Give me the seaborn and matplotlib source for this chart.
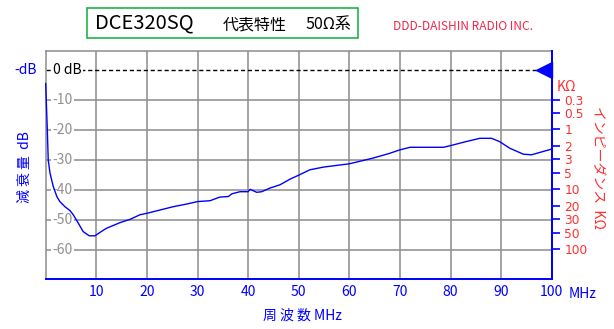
import numpy as np
import pandas as pd
import matplotlib
matplotlib.use("Agg")
import matplotlib.pyplot as plt
import matplotlib.transforms as mtransforms
from matplotlib.patches import Rectangle
import seaborn as sns

# Measured attenuation of the DCE320SQ (50 ohm system)
freq_mhz = [0, 0.15, 0.3, 0.5, 0.85, 1.5, 2.2, 2.8, 3.8, 4.8, 5.45, 6.45, 7.4,
            8.6, 9.75, 10.7, 12.0, 14.7, 16.7, 18.6, 20.0, 22.6, 25.2, 27.9,
            30.0, 32.5, 34.4, 36.1, 36.8, 38.4, 40.0, 40.4, 41.7, 42.7, 44.3,
            46.3, 48.3, 50.0, 52.2, 54.9, 60.0, 64.7, 68.0, 69.9, 72.0, 78.6,
            80.1, 82.6, 85.8, 88.1, 89.7, 91.7, 94.4, 96.0, 98.3, 100.0]
atten_db = [-4.5, -12.0, -19.0, -30.0, -34.4, -38.9, -42.2, -43.9, -45.6, -46.9,
            -48.3, -51.1, -53.9, -55.3, -55.3, -54.2, -52.8, -50.9, -49.8, -48.3,
            -47.8, -46.7, -45.6, -44.7, -43.9, -43.6, -42.4, -42.2, -41.3, -40.6,
            -40.6, -39.8, -40.8, -40.6, -39.4, -38.3, -36.4, -35.1, -33.3, -32.4,
            -31.3, -29.4, -27.8, -26.7, -25.8, -25.8, -25.2, -24.1, -22.8, -22.8,
            -23.9, -26.1, -28.1, -28.3, -27.2, -26.4]

x_ticks = [0, 10, 20, 30, 40, 50, 60, 70, 80, 90, 100]
x_tick_labels = ["", "10", "20", "30", "40", "50", "60", "70", "80", "90", "100"]
db_grid = [-10, -20, -30, -40, -50, -60]
db_grid_labels = ["-10", "-20", "-30", "-40", "-50", "-60"]
# impedance scale (kΩ) and the attenuation level each mark sits at
imp_labels = ["0.3", "0.5", "1", "2", "3", "5", "10", "20", "30", "50", "100"]
imp_at_db = [-10.0, -14.4, -19.8, -25.2, -29.8, -34.2, -39.8, -45.3, -49.6,
             -54.4, -59.8]

sns.set_style("white")
plt.rcParams["font.family"] = ["Noto Sans CJK JP", "DejaVu Sans"]

BLUE = "#0000FF"
GRID = "#8C8C8C"
RED = "#FF3030"

W, H = 614, 329
fig = plt.figure(figsize=(W / 100, H / 100), dpi=100)
left, right, top, bottom = 45.7, 551.7, 51, 279
ax = fig.add_axes([left / W, 1 - bottom / H, (right - left) / W, (bottom - top) / H])

df = pd.DataFrame({"freq": freq_mhz, "atten": atten_db})
sns.lineplot(data=df, x="freq", y="atten", ax=ax, color=BLUE, lw=1.0,
             zorder=5, clip_on=False)

ax.set_xlim(0, 100)
ax.set_ylim(-69.7, 6.3)
ax.set_xlabel("")
ax.set_ylabel("")

# grid
ax.set_xticks(x_ticks)
ax.set_xticklabels(x_tick_labels, color=BLUE, fontsize=10)
ax.tick_params(axis="x", direction="in", length=7.5, width=1.2, color=BLUE, pad=4)
ax.set_yticks([])
for xv in x_ticks[1:-1]:
    ax.axvline(xv, color=GRID, lw=1.1, zorder=1)
ybt = mtransforms.blended_transform_factory(ax.transAxes, ax.transData)
for yv, lab in zip(db_grid, db_grid_labels):
    ax.axhline(yv, color=GRID, lw=1.1, zorder=1)
    ax.text(0.034, yv, lab, transform=ybt, ha="center", va="center",
            color="#909090", fontsize=10, zorder=3,
            bbox=dict(facecolor="white", edgecolor="none", pad=1.0))

# 0 dB reference
ax.axhline(0, color="black", lw=1.0, ls=(0, (3, 2)), zorder=2)
ax.text(0.042, 0, "0 dB", transform=ybt, ha="center", va="center",
        color="black", fontsize=10, zorder=3,
        bbox=dict(facecolor="white", edgecolor="none", pad=1.0))
tri = mtransforms.offset_copy(ax.transData, fig=fig, x=-7.5, y=0, units="dots")
ax.plot([100], [0], marker="<", ms=11, color=BLUE, transform=tri,
        clip_on=False, zorder=6)
ax.text(-0.017, 0, "-dB", transform=ybt, ha="right", va="center",
        color=BLUE, fontsize=10)

for side in ("left", "top"):
    ax.spines[side].set_color(GRID)
    ax.spines[side].set_linewidth(1.1)
for side in ("bottom", "right"):
    ax.spines[side].set_color(BLUE)
    ax.spines[side].set_linewidth(1.4)

# impedance scale on the right
ax2 = ax.twinx()
ax2.set_ylim(ax.get_ylim())
ax2.set_yticks(imp_at_db)
ax2.set_yticklabels(imp_labels, color=RED, fontsize=8.8, family="DejaVu Sans")
ax2.tick_params(axis="y", direction="out", length=6, width=1.2, color=BLUE, pad=3)
for side in ("left", "top", "bottom"):
    ax2.spines[side].set_visible(False)
ax2.spines["right"].set_color(BLUE)
ax2.spines["right"].set_linewidth(1.4)
ax2.grid(False)

ax.text(1.03, 0.84, "KΩ", transform=ax.transAxes, ha="center", va="center",
        color=RED, fontsize=10)
ax.text(1.034, -0.065, "MHz", transform=ax.transAxes, ha="left", va="center",
        color=BLUE, fontsize=10)

# axis titles
fig.text(25 / W, 1 - 167 / H, "減 衰 量  dB", rotation=90, ha="center",
         va="center", color=BLUE, fontsize=10)
fig.text(598 / W, 1 - 167 / H, "インピーダンス  KΩ", rotation=-90, ha="center",
         va="center", color=RED, fontsize=10)
fig.text(302 / W, 1 - 316 / H, "周 波 数 MHz", ha="center", va="center",
         color=BLUE, fontsize=10)

# heading
fig.patches.append(Rectangle((87 / W, 1 - 38 / H), (358 - 87) / W, 30 / H,
                             transform=fig.transFigure, fill=False,
                             edgecolor="#22B14C", lw=1.2))
fig.text(95 / W, 1 - 28.5 / H, "DCE320SQ", ha="left", va="baseline",
         color="black", fontsize=14.5)
fig.text(223 / W, 1 - 29 / H, "代表特性", ha="left", va="baseline",
         color="black", fontsize=11.5)
fig.text(305 / W, 1 - 29 / H, "50Ω系", ha="left", va="baseline",
         color="black", fontsize=11.5)
fig.text(393 / W, 1 - 29.5 / H, "DDD-DAISHIN RADIO INC.", ha="left",
         va="baseline", color="#F0284A", fontsize=8.6)

fig.savefig("out.png", dpi=100, facecolor="white")
